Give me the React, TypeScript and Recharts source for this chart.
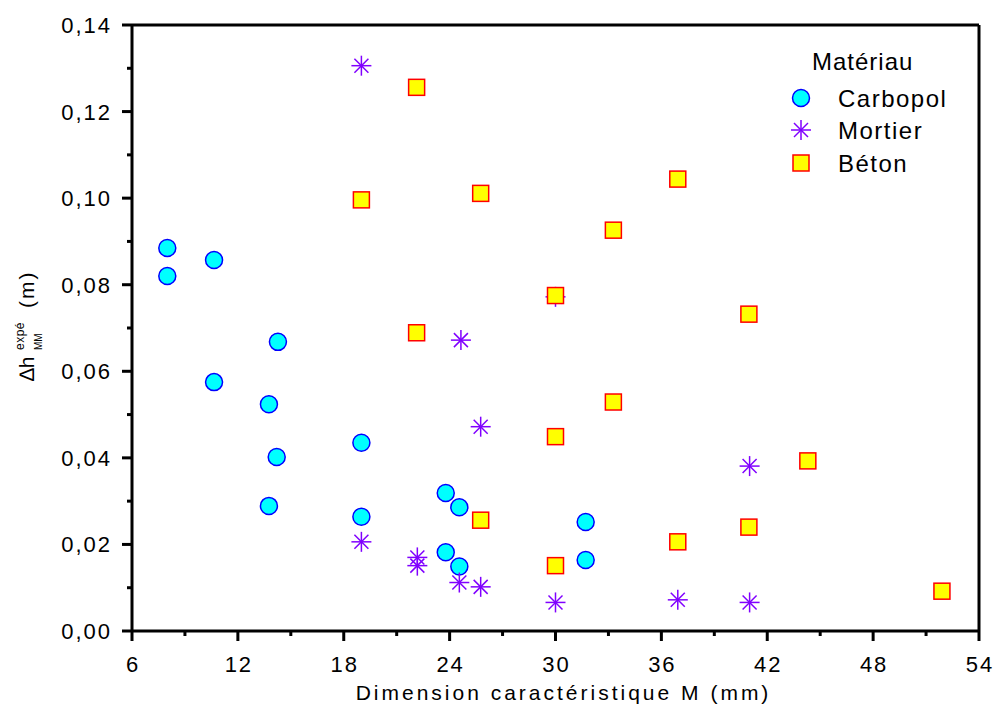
import {
  ScatterChart,
  Scatter,
  XAxis,
  YAxis,
  ReferenceLine,
} from 'recharts';

// Carbopol
const carbopolM = [8, 8, 10.65, 10.65, 14.27, 13.76, 14.2, 13.76, 19, 19, 23.78, 24.55, 23.78, 24.55, 31.71, 31.71];
const carbopolDh = [0.0885, 0.082, 0.0857, 0.0575, 0.0668, 0.0524, 0.0402, 0.0289, 0.0435, 0.0264, 0.0319, 0.0286, 0.0182, 0.0149, 0.0252, 0.0164];

// Mortier
const mortierM = [19, 24.64, 25.76, 30, 19, 22.17, 22.17, 24.55, 25.76, 30, 36.93, 41, 41];
const mortierDh = [0.1306, 0.0672, 0.0472, 0.0772, 0.0206, 0.017, 0.0151, 0.0112, 0.0102, 0.0066, 0.0072, 0.0381, 0.0066];

// Béton
const betonM = [22.13, 19, 25.76, 30, 33.28, 36.93, 22.13, 40.96, 33.28, 30, 44.3, 25.76, 30, 36.93, 40.96, 51.9];
const betonDh = [0.1256, 0.0996, 0.1011, 0.0775, 0.0926, 0.1044, 0.0689, 0.0732, 0.0529, 0.0449, 0.0393, 0.0256, 0.0151, 0.0206, 0.024, 0.0092];

const xTicks = [6, 9, 12, 15, 18, 21, 24, 27, 30, 33, 36, 39, 42, 45, 48, 51, 54];
const yTicks = [0, 0.01, 0.02, 0.03, 0.04, 0.05, 0.06, 0.07, 0.08, 0.09, 0.1, 0.11, 0.12, 0.13, 0.14];

const toPoints = (xs: number[], ys: number[]) => xs.map((x, i) => ({ x, y: ys[i] }));

const carbopol = toPoints(carbopolM, carbopolDh);
const mortier = toPoints(mortierM, mortierDh);
const beton = toPoints(betonM, betonDh);

const FONT = '"Liberation Sans", Arial, sans-serif';
const VIOLET = '#8000FF';

function CircleMark({ cx, cy }: any) {
  return <circle cx={cx} cy={cy} r={8.5} fill="#00FFFF" stroke="#0000FF" strokeWidth={1.5} />;
}

function StarMark({ cx, cy }: any) {
  const h = 10;
  const d = 7;
  return (
    <g stroke={VIOLET} strokeWidth={1.5}>
      <line x1={cx - h} y1={cy} x2={cx + h} y2={cy} />
      <line x1={cx} y1={cy - h} x2={cx} y2={cy + h} />
      <line x1={cx - d} y1={cy - d} x2={cx + d} y2={cy + d} />
      <line x1={cx - d} y1={cy + d} x2={cx + d} y2={cy - d} />
    </g>
  );
}

function SquareMark({ cx, cy }: any) {
  return <rect x={cx - 8} y={cy - 8} width={16} height={16} fill="#FFFF00" stroke="#FF0000" strokeWidth={1.5} />;
}

function XTick({ x, y, payload }: any) {
  const v = payload.value;
  const major = v % 6 === 0;
  return (
    <g>
      <line x1={x} y1={y} x2={x} y2={y + (major ? 10 : 5)} stroke="#000" strokeWidth={3} />
      {major && (
        <text x={x + 1} y={y + 41} textAnchor="middle" fontSize={22} letterSpacing={2} fill="#000" fontFamily={FONT}>
          {v}
        </text>
      )}
    </g>
  );
}

function YTick({ x, y, payload }: any) {
  const v = payload.value;
  const major = Math.round(v * 100) % 2 === 0;
  return (
    <g>
      <line x1={x} y1={y} x2={x - (major ? 10 : 5)} y2={y} stroke="#000" strokeWidth={3} />
      {major && (
        <text x={x - 20} y={y + 8} textAnchor="end" fontSize={22} letterSpacing={2} fill="#000" fontFamily={FONT}>
          {v.toFixed(2).replace('.', ',')}
        </text>
      )}
    </g>
  );
}

function YLabel({ viewBox }: any) {
  const cy = viewBox ? viewBox.y + viewBox.height / 2 : 328;
  return (
    <g transform={`translate(34, ${cy}) rotate(-90)`} fontFamily={FONT} fill="#000">
      <text x={-53} y={0} fontSize={21}>∆h</text>
      <text x={-22} y={-10} fontSize={12} letterSpacing={0.5}>expé</text>
      <text x={-22} y={8} fontSize={10}>MM</text>
      <text x={20} y={0} fontSize={21} letterSpacing={2}>(m)</text>
    </g>
  );
}

function XLabel({ viewBox }: any) {
  const cx = viewBox ? viewBox.x + viewBox.width / 2 : 555;
  return (
    <text x={cx + 8} y={700} textAnchor="middle" fontSize={21} letterSpacing={3} fill="#000" fontFamily={FONT}>
      Dimension caractéristique M (mm)
    </text>
  );
}

function LegendBox() {
  const rows = [
    { name: 'Carbopol', y: 68, mark: <CircleMark cx={21} cy={68} /> },
    { name: 'Mortier', y: 100, mark: <StarMark cx={21} cy={100} /> },
    { name: 'Béton', y: 133, mark: <SquareMark cx={21} cy={133} /> },
  ];
  return (
    <svg
      width={200}
      height={160}
      style={{ position: 'absolute', left: 780, top: 30, overflow: 'visible' }}
    >
      <text x={32} y={40} fontSize={24} letterSpacing={1} fontFamily={FONT} fill="#000">
        Matériau
      </text>
      {rows.map((r) => (
        <g key={r.name}>
          {r.mark}
          <text x={58} y={r.y + 9} fontSize={24} letterSpacing={1.5} fontFamily={FONT} fill="#000">
            {r.name}
          </text>
        </g>
      ))}
    </svg>
  );
}

export default function App() {
  return (
    <div style={{ position: 'absolute', left: 0, top: 0, width: 995, height: 710, background: '#fff' }}>
      <ScatterChart width={995} height={710} margin={{ top: 25, right: 16, bottom: 0, left: 0 }}>
        <XAxis
          type="number"
          dataKey="x"
          domain={[6, 54]}
          ticks={xTicks}
          interval={0}
          height={79}
          tickSize={0}
          tickMargin={0}
          tick={<XTick />}
          axisLine={{ stroke: '#000', strokeWidth: 3 }}
          label={<XLabel />}
          allowDataOverflow
        />
        <YAxis
          type="number"
          dataKey="y"
          domain={[0, 0.14]}
          ticks={yTicks}
          interval={0}
          width={132}
          tickSize={0}
          tickMargin={0}
          tick={<YTick />}
          axisLine={{ stroke: '#000', strokeWidth: 3 }}
          label={<YLabel />}
          allowDataOverflow
        />
        <ReferenceLine y={0.14} stroke="#000" strokeWidth={3} />
        <ReferenceLine x={54} stroke="#000" strokeWidth={3} />
        <Scatter name="Carbopol" data={carbopol} shape={CircleMark} isAnimationActive={false} />
        <Scatter name="Mortier" data={mortier} shape={StarMark} isAnimationActive={false} />
        <Scatter name="Béton" data={beton} shape={SquareMark} isAnimationActive={false} />
      </ScatterChart>
      <LegendBox />
    </div>
  );
}
